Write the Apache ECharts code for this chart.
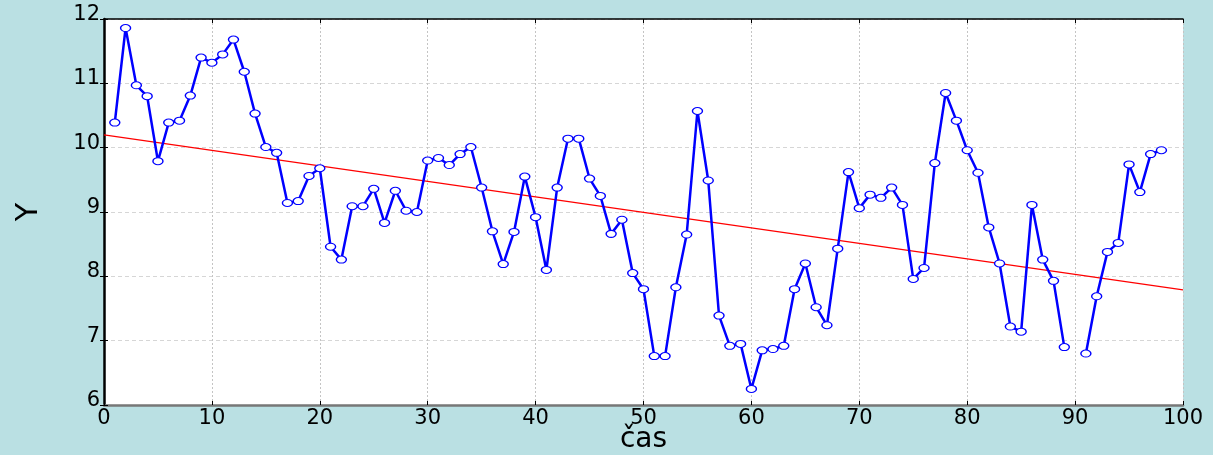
<!DOCTYPE html>
<html>
<head>
<meta charset="utf-8">
<script src="https://cdn.jsdelivr.net/npm/echarts@6/dist/echarts.min.js"></script>
<style>
html,body{margin:0;padding:0;background:#bae0e3;}
#chart{width:1213px;height:455px;}
</style>
</head>
<body>
<div id="chart"></div>
<script>
// time index (1..98); value at 90 is missing
var timeIdx = [];
for (var i = 1; i <= 98; i++) timeIdx.push(i);
var yValues = [
  10.39, 11.86, 10.97, 10.80, 9.79, 10.39, 10.42, 10.81, 11.40, 11.32,
  11.45, 11.68, 11.18, 10.53, 10.01, 9.92, 9.14, 9.17, 9.56, 9.68,
  8.46, 8.26, 9.09, 9.09, 9.36, 8.83, 9.33, 9.02, 9.00, 9.80,
  9.84, 9.73, 9.90, 10.01, 9.38, 8.70, 8.19, 8.69, 9.55, 8.92,
  8.10, 9.38, 10.14, 10.14, 9.52, 9.25, 8.66, 8.88, 8.05, 7.80,
  6.76, 6.76, 7.83, 8.65, 10.57, 9.49, 7.39, 6.92, 6.95, 6.25,
  6.85, 6.87, 6.92, 7.80, 8.20, 7.52, 7.24, 8.43, 9.62, 9.06,
  9.27, 9.22, 9.38, 9.11, 7.96, 8.13, 9.76, 10.85, 10.42, 9.96,
  9.61, 8.76, 8.20, 7.22, 7.14, 9.11, 8.26, 7.93, 6.90, null,
  6.80, 7.69, 8.38, 8.52, 9.74, 9.31, 9.90, 9.96
];
// trend line end points
var trendX = [0, 100];
var trendY = [10.20, 7.79];
var xTicks = [0, 10, 20, 30, 40, 50, 60, 70, 80, 90, 100];
var yTicks = [6, 7, 8, 9, 10, 11, 12];

var seriesData = timeIdx.map(function (t, k) { return [t, yValues[k]]; });
var trendData = trendX.map(function (t, k) { return [t, trendY[k]]; });

var FONT = 'DejaVu Sans';
var chart = echarts.init(document.getElementById('chart'), null, {renderer: 'canvas'});
chart.setOption({
  backgroundColor: '#bae0e3',
  animation: false,
  grid: {left: 104, right: 30, top: 19, bottom: 50, backgroundColor: '#ffffff', show: true, borderWidth: 0,
         containLabel: false, outerBoundsMode: 'none'},
  xAxis: [{
    type: 'value', min: xTicks[0], max: xTicks[xTicks.length - 1], interval: 10,
    name: 'čas', nameLocation: 'middle', nameGap: 21, nameMoveOverlap: false,
    nameTextStyle: {fontFamily: FONT, fontSize: 28, color: '#000'},
    axisLine: {show: true, onZero: false, lineStyle: {color: '#777777', width: 2.5}},
    axisTick: {show: true, inside: true, length: 4, lineStyle: {color: '#000'}},
    axisLabel: {fontFamily: FONT, fontSize: 21, color: '#000', margin: 3},
    splitLine: {show: true, lineStyle: {color: '#c4c4c4', type: [2, 2], width: 1}}
  }, {
    type: 'value', position: 'top', min: 0, max: 100, interval: 10,
    axisLine: {show: true, lineStyle: {color: '#000', width: 1.5}},
    axisTick: {show: true, inside: true, length: 4, lineStyle: {color: '#000'}},
    axisLabel: {show: false}, splitLine: {show: false}
  }],
  yAxis: [{
    type: 'value', min: yTicks[0], max: yTicks[yTicks.length - 1], interval: 1,
    name: 'Y', nameLocation: 'middle', nameGap: 60, nameRotate: 90,
    nameTextStyle: {fontFamily: FONT, fontSize: 30, color: '#000'},
    axisLine: {show: true, lineStyle: {color: '#000', width: 1}},
    axisTick: {show: true, inside: true, length: 4, lineStyle: {color: '#000'}},
    axisLabel: {fontFamily: FONT, fontSize: 21, color: '#000', margin: 4, verticalAlign: 'bottom', lineHeight: 9},
    splitLine: {show: true, lineStyle: {color: '#d6d6d6', type: [4, 3], width: 1}}
  }, {
    type: 'value', position: 'right', min: 6, max: 12, interval: 1,
    axisLine: {show: true, lineStyle: {color: '#000', width: 2.5}},
    axisTick: {show: true, inside: true, length: 4, lineStyle: {color: '#000'}},
    axisLabel: {show: false}, splitLine: {show: false}
  }],
  series: [{
    type: 'line', data: seriesData, xAxisIndex: 0, yAxisIndex: 0,
    connectNulls: false,
    lineStyle: {color: '#0000ff', width: 2.5},
    symbol: 'circle', symbolSize: [10, 7], showAllSymbol: true,
    itemStyle: {color: '#ffffff', borderColor: '#0000ff', borderWidth: 1.2},
    z: 3
  }, {
    type: 'line', data: trendData, xAxisIndex: 0, yAxisIndex: 0,
    symbol: 'none', lineStyle: {color: '#ff0000', width: 1.2}, z: 2
  }]
});
</script>
</body>
</html>
